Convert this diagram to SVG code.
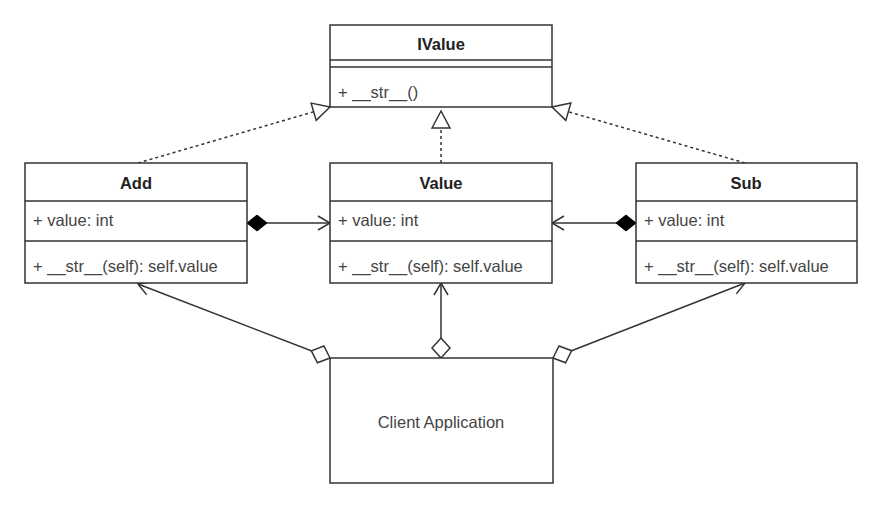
<svg xmlns="http://www.w3.org/2000/svg" width="890" height="513" viewBox="0 0 890 513">
<style>
.box{fill:#fff;stroke:#333;stroke-width:1.5}
.sep{stroke:#333;stroke-width:1.5}
.title{font-family:"Liberation Sans",Arial,sans-serif;font-size:16.5px;font-weight:bold;fill:#222;text-anchor:middle}
.attr{font-family:"Liberation Sans",Arial,sans-serif;font-size:16.5px;fill:#444}
.lbl{font-family:"Liberation Sans",Arial,sans-serif;font-size:16.5px;fill:#444;text-anchor:middle}
.conn{fill:none;stroke:#333;stroke-width:1.5}
.dash{stroke-dasharray:3,3}
</style>
<defs>
<marker id="tri" markerUnits="userSpaceOnUse" markerWidth="20" markerHeight="20" refX="17" refY="9" orient="auto" overflow="visible">
<path d="M0,0 L17,9 L0,18 Z" fill="#fff" stroke="#333" stroke-width="1.5"/>
</marker>
<marker id="open" markerUnits="userSpaceOnUse" markerWidth="14" markerHeight="16" refX="12" refY="7" orient="auto" overflow="visible">
<path d="M0,0 L12,7 L0,14" fill="none" stroke="#333" stroke-width="1.5"/>
</marker>
<marker id="fdia" markerUnits="userSpaceOnUse" markerWidth="22" markerHeight="18" refX="0" refY="8" orient="auto" overflow="visible">
<path d="M0,8 L10,0 L20,8 L10,16 Z" fill="#000" stroke="#000" stroke-width="1"/>
</marker>
<marker id="hdia" markerUnits="userSpaceOnUse" markerWidth="22" markerHeight="20" refX="0" refY="9" orient="auto" overflow="visible">
<path d="M0,9 L10,0 L20,9 L10,18 Z" fill="#fff" stroke="#333" stroke-width="1.5"/>
</marker>
</defs>
<rect width="890" height="513" fill="#fff"/>
<g id="connectors">
<path class="conn dash" d="M138,163 L330,107" marker-end="url(#tri)"/>
<path class="conn dash" d="M441,163 L441,111" marker-end="url(#tri)"/>
<path class="conn dash" d="M745,163 L552,107" marker-end="url(#tri)"/>
<path class="conn" d="M247,223 L330,223" marker-start="url(#fdia)" marker-end="url(#open)"/>
<path class="conn" d="M636,223 L552,223" marker-start="url(#fdia)" marker-end="url(#open)"/>
<path class="conn" d="M330,358 L138,284" marker-start="url(#hdia)" marker-end="url(#open)"/>
<path class="conn" d="M441,358 L441,283" marker-start="url(#hdia)" marker-end="url(#open)"/>
<path class="conn" d="M553,358 L745,283" marker-start="url(#hdia)" marker-end="url(#open)"/>
</g>
<g id="IValue">
<rect class="box" x="330" y="25" width="222" height="82"/>
<line class="sep" x1="330" y1="60" x2="552" y2="60"/>
<line class="sep" x1="330" y1="67" x2="552" y2="67"/>
<text class="title" x="441" y="50">IValue</text>
<text class="attr" x="338" y="98">+ __str__()</text>
</g>
<g id="Add">
<rect class="box" x="25" y="163" width="222" height="120"/>
<line class="sep" x1="25" y1="201" x2="247" y2="201"/>
<line class="sep" x1="25" y1="241" x2="247" y2="241"/>
<text class="title" x="136" y="189">Add</text>
<text class="attr" x="33" y="226">+ value: int</text>
<text class="attr" x="33" y="272">+ __str__(self): self.value</text>
</g>
<g id="Value">
<rect class="box" x="330" y="163" width="222" height="120"/>
<line class="sep" x1="330" y1="201" x2="552" y2="201"/>
<line class="sep" x1="330" y1="241" x2="552" y2="241"/>
<text class="title" x="441" y="189">Value</text>
<text class="attr" x="338" y="226">+ value: int</text>
<text class="attr" x="338" y="272">+ __str__(self): self.value</text>
</g>
<g id="Sub">
<rect class="box" x="636" y="163" width="221" height="120"/>
<line class="sep" x1="636" y1="201" x2="857" y2="201"/>
<line class="sep" x1="636" y1="241" x2="857" y2="241"/>
<text class="title" x="746" y="189">Sub</text>
<text class="attr" x="644" y="226">+ value: int</text>
<text class="attr" x="644" y="272">+ __str__(self): self.value</text>
</g>
<g id="ClientApplication">
<rect class="box" x="330" y="358" width="223" height="125"/>
<text class="lbl" x="441" y="428">Client Application</text>
</g>
</svg>
